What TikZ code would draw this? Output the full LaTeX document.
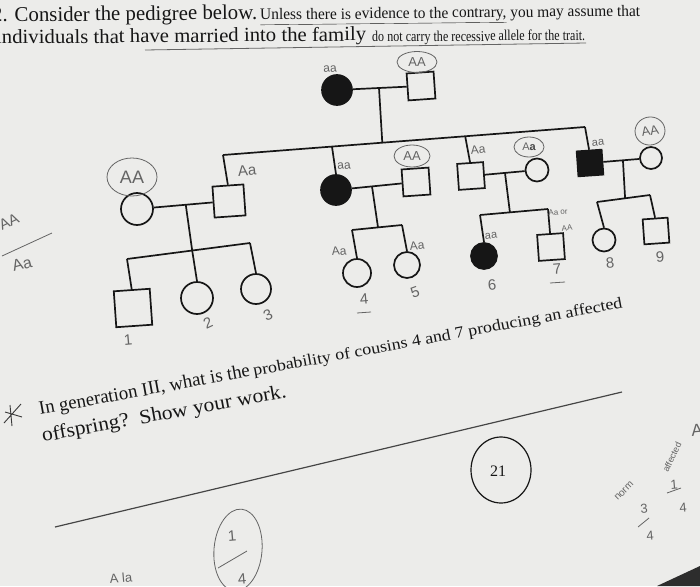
\documentclass[tikz,border=0pt]{standalone}
\usepackage{fontspec}
\setmainfont{Liberation Serif}
\newfontfamily\hand{Liberation Sans}
\usetikzlibrary{calc,shapes.geometric}
\definecolor{paper}{RGB}{236,236,234}
\definecolor{pencil}{RGB}{100,100,100}
\definecolor{ink}{RGB}{22,22,22}
\newcommand\fs[1]{\fontsize{#1}{#1}\selectfont}
\newcommand\fitw[2]{\resizebox{#1}{\height}{#2}}
\tikzset{
  ped/.style={line width=1.7pt, draw=ink},
  male/.style={rectangle, draw=ink, line width=1.7pt, inner sep=0pt, rotate=4},
  fem/.style={circle, draw=ink, line width=1.7pt, inner sep=0pt},
  aff/.style={fill=ink},
  gt/.style={text=pencil, font=\hand\fs{12}, inner sep=0pt, rotate=5},
  num/.style={text=pencil, font=\hand\fs{15}, inner sep=0pt, rotate=5},
  cg/.style={ellipse, draw=pencil, line width=0.8pt, text=pencil, inner sep=0pt, font=\hand\fs{13}},
  pen/.style={draw=pencil, line width=0.8pt},
  prt/.style={anchor=base west, inner sep=0pt, text=ink},
}
\begin{document}
\begin{tikzpicture}[x=1pt,y=-1pt]
\useasboundingbox (0,0) rectangle (700,586);
\fill[paper] (0,0) rectangle (700,586);

% ---------- header text ----------
\node[prt, rotate=0.6] (h1a) at (-8,22) {\fitw{265pt}{\fs{21}2. Consider the pedigree below.}};
\node[prt, rotate=0.6] (h1b) at (260,20) {\fitw{380pt}{\fs{16}\underline{Unless there is evidence to the contrary,} you may assume that}};
\node[prt, rotate=0.5] (h2a) at (-4,44) {\fitw{370pt}{\fs{20}individuals that have married into the family}};
\node[prt, rotate=0.5] (h2b) at (372,42) {\fitw{213pt}{\fs{15}do not carry the recessive allele for the trait.}};
\draw[pen] (145,50) -- (586,43);

% ---------- generation I ----------
\node[fem,aff,minimum size=30pt] (I1) at (337,90) {};
\node[male,minimum size=27pt] (I2) at (421,86) {};
\draw[ped] (I1) -- (I2);
\coordinate (mI) at ($(I1)!0.5!(I2)$);
\coordinate (sA) at (223,155);
\coordinate (sB) at (585,127);
\draw[ped] (sA) -- (sB);
\draw[ped] (mI) -- ($(sA)!0.44!(sB)$);

% ---------- generation II ----------
\node[male,minimum size=31pt] (IIa) at (229,201) {};
\node[fem,minimum size=32pt] (IIas) at (137,209) {};
\node[fem,aff,minimum size=30pt] (IIb) at (336,190) {};
\node[male,minimum size=27pt] (IIbs) at (416,182) {};
\node[male,minimum size=26pt] (IIc) at (471,176) {};
\node[fem,minimum size=23pt] (IIcs) at (537,170) {};
\node[male,aff,minimum size=25pt] (IId) at (590,163) {};
\node[fem,minimum size=22pt] (IIds) at (651,158) {};
\draw[ped] (sA) -- (IIa.north);
\draw[ped] ($(sA)!0.301!(sB)$) -- (IIb.north);
\draw[ped] ($(sA)!0.669!(sB)$) -- (IIc.north);
\draw[ped] (sB) -- (IId.north);
\draw[ped] (IIas) -- (IIa);
\draw[ped] (IIb) -- (IIbs);
\draw[ped] (IIc) -- (IIcs);
\draw[ped] (IId) -- (IIds);

% ---------- generation III ----------
% family 1
\coordinate (f1a) at (127,259);
\coordinate (f1b) at (250,243);
\draw[ped] (f1a) -- (f1b);
\draw[ped] ($(IIas)!0.53!(IIa)$) -- ($(f1a)!0.53!(f1b)$);
\node[male,minimum size=36pt] (III1) at (133,308) {};
\node[fem,minimum size=32pt] (III2) at (197,298) {};
\node[fem,minimum size=30pt] (III3) at (256,289) {};
\draw[ped] (f1a) -- (III1.north);
\draw[ped] ($(f1a)!0.53!(f1b)$) -- (III2.north);
\draw[ped] (f1b) -- (III3.north);
% family 2
\coordinate (f2a) at (352,230);
\coordinate (f2b) at (402,225);
\draw[ped] (f2a) -- (f2b);
\draw[ped] ($(IIb)!0.45!(IIbs)$) -- ($(f2a)!0.52!(f2b)$);
\node[fem,minimum size=28pt] (III4) at (357,273) {};
\node[fem,minimum size=26pt] (III5) at (407,265) {};
\draw[ped] (f2a) -- (III4.north);
\draw[ped] (f2b) -- (III5.north);
% family 3
\coordinate (f3a) at (480,215);
\coordinate (f3b) at (548,209);
\draw[ped] (f3a) -- (f3b);
\draw[ped] ($(IIc)!0.515!(IIcs)$) -- ($(f3a)!0.44!(f3b)$);
\node[fem,aff,minimum size=26pt] (III6) at (484,256) {};
\node[male,minimum size=26pt] (III7) at (551,247) {};
\draw[ped] (f3a) -- (III6.north);
\draw[ped] (f3b) -- (III7.north);
% family 4
\coordinate (f4a) at (597,202);
\coordinate (f4b) at (650,195);
\draw[ped] (f4a) -- (f4b);
\draw[ped] ($(IId)!0.54!(IIds)$) -- ($(f4a)!0.53!(f4b)$);
\node[fem,minimum size=23pt] (III8) at (604,240) {};
\node[male,minimum size=25pt] (III9) at (656,231) {};
\draw[ped] (f4a) -- (III8.north);
\draw[ped] (f4b) -- (III9.north);

% ---------- pencil genotypes ----------
\node[gt] (gI1) at (330,69) {aa};
\node[cg, minimum width=40pt, minimum height=21pt] (gI2) at (417,62) {AA};
\node[gt, font=\hand\fs{15}] (gIIa) at (247,171) {Aa};
\node[cg, minimum width=50pt, minimum height=38pt, font=\hand\fs{18}] (gIIas) at (132,177) {AA};
\node[gt] (gIIb) at (344,166) {aa};
\node[cg, minimum width=36pt, minimum height=22pt] (gIIbs) at (412,156) {AA};
\node[gt] (gIIc) at (478,150) {Aa};
\node[cg, minimum width=30pt, minimum height=20pt, font=\hand\fs{11}] (gIIcs) at (529,147) {A{\color{ink!80}\bfseries a}};
\node[gt, font=\hand\fs{11}] (gIId) at (598,143) {aa};
\node[cg, minimum width=30pt, minimum height=28pt, rotate=10] (gIIds) at (650,131) {AA};
\node[gt] (gIII4) at (339,251) {Aa};
\node[gt] (gIII5) at (417,246) {Aa};
\node[gt, font=\hand\fs{11}] (gIII6) at (491,236) {aa};
\node[gt, font=\hand\fs{8}] (gIII7a) at (558,212) {Aa or};
\node[gt, font=\hand\fs{8}] (gIII7b) at (567,228) {AA};

% ---------- numbers ----------
\node[num] (n1) at (128,340) {1};
\node[num, rotate=20] (n2) at (208,323) {2};
\node[num, rotate=20] (n3) at (268,315) {3};
\node[num] (n4) at (364,299) {4};
\draw[pen] (357,313) -- (371,312);
\node[num, rotate=15] (n5) at (415,292) {5};
\node[num] (n6) at (492,285) {6};
\node[num] (n7) at (557,269) {7};
\draw[pen] (550,283) -- (565,282);
\node[num] (n8) at (610,263) {8};
\node[num] (n9) at (660,257) {9};

% ---------- side notes ----------
\node[gt, font=\hand\fs{15}, rotate=20] (sAA) at (9,222) {AA};
\draw[pen] (2,256) -- (52,233);
\node[gt, font=\hand\fs{16}, rotate=10] (sAa) at (22,264) {Aa};

% ---------- question ----------
\draw[draw=ink!85, line width=0.9pt] (4,423) -- (21,404) (10,405) -- (12,426) (5,412) -- (22,417);
\node[prt, rotate=10.4] (q1) at (40,415) {\fitw{214pt}{\fs{19}In generation III, what is the}};
\node[prt, rotate=10.5] (q2) at (254,376) {\fitw{375pt}{\fs{16}probability of cousins 4 and 7 producing an affected}};
\node[prt, rotate=10.4] (q3) at (43,442) {\fitw{248pt}{\fs{20}offspring?\ \ Show your work.}};
\draw[draw=ink!80, line width=1.2pt] (55,527) -- (622,392);

% ---------- page number ----------
\node[fem, ellipse, minimum width=60pt, minimum height=66pt, line width=1.2pt] (pg) at (501,470) {};
\node[inner sep=0pt, text=ink, font=\fs{16}] (pgn) at (498,471) {21};

% ---------- bottom pencil work ----------
\node[gt, font=\hand\fs{13}] (ala) at (121,578) {A la};
\node[cg, minimum width=48pt, minimum height=82pt, rotate=-5] (frc) at (238,550) {};
\node[num] (f1n) at (232,536) {1};
\draw[pen] (218,568) -- (247,551);
\node[num] (f1d) at (242,579) {4};
\node[gt, font=\hand\fs{10}, rotate=40] (norm) at (624,491) {norm};
\node[num, font=\hand\fs{13}] (f3n) at (644,509) {3};
\draw[pen] (638,527) -- (649,518);
\node[num, font=\hand\fs{13}] (f3d) at (650,536) {4};
\node[gt, font=\hand\fs{9}, rotate=60] (aff) at (672,457) {affected};
\node[num, font=\hand\fs{13}] (f4n) at (674,485) {1};
\draw[pen] (667,493) -- (681,488);
\node[num, font=\hand\fs{13}] (f4d) at (683,508) {4};
\node[num, font=\hand\fs{17}] (Aedge) at (697,430) {A};

\fill[ink!90] (657,586) -- (700,566) -- (700,586) -- cycle;
\end{tikzpicture}
\end{document}
